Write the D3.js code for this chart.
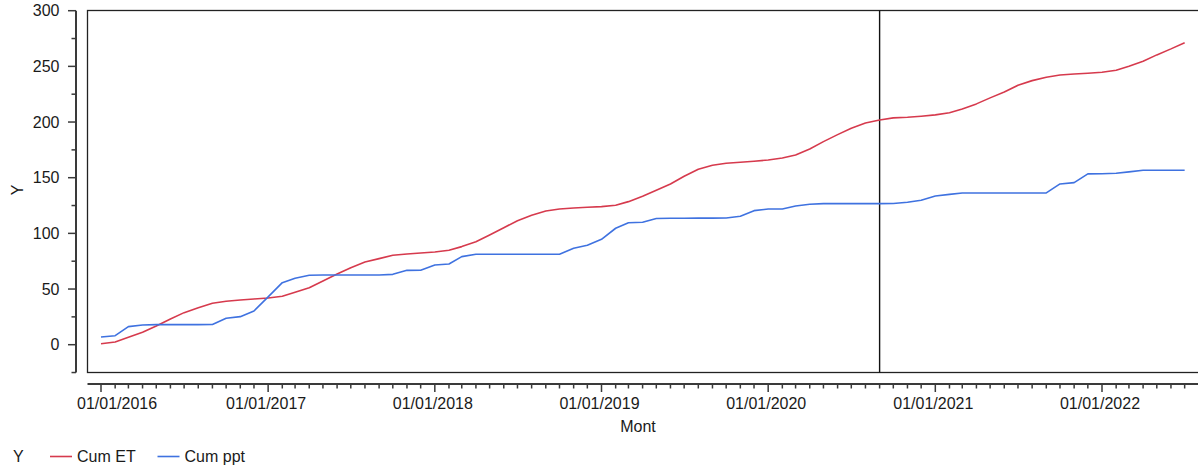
<!DOCTYPE html>
<html>
<head>
<meta charset="utf-8">
<script src="https://cdn.jsdelivr.net/npm/d3@7"></script>
<style>
  html, body { margin: 0; padding: 0; background: #fff; }
  svg { display: block; font-family: "Liberation Sans", Arial, sans-serif; }
</style>
</head>
<body>
<svg id="chart" width="1198" height="465"></svg>
<script>
// Monthly observations, January 2016 to July 2022
const months = [
  "2016-01","2016-02","2016-03","2016-04","2016-05","2016-06","2016-07","2016-08","2016-09","2016-10","2016-11","2016-12",
  "2017-01","2017-02","2017-03","2017-04","2017-05","2017-06","2017-07","2017-08","2017-09","2017-10","2017-11","2017-12",
  "2018-01","2018-02","2018-03","2018-04","2018-05","2018-06","2018-07","2018-08","2018-09","2018-10","2018-11","2018-12",
  "2019-01","2019-02","2019-03","2019-04","2019-05","2019-06","2019-07","2019-08","2019-09","2019-10","2019-11","2019-12",
  "2020-01","2020-02","2020-03","2020-04","2020-05","2020-06","2020-07","2020-08","2020-09","2020-10","2020-11","2020-12",
  "2021-01","2021-02","2021-03","2021-04","2021-05","2021-06","2021-07","2021-08","2021-09","2021-10","2021-11","2021-12",
  "2022-01","2022-02","2022-03","2022-04","2022-05","2022-06","2022-07"
];

// Cumulative evapotranspiration
const cumET = [
  0.9, 2.4, 6.6, 11.1, 16.8, 23.1, 28.8, 33.2, 37.2, 39.0,
  40.2, 41.1, 42.0, 43.5, 47.1, 51.2, 57.2, 63.5, 69.2, 74.3,
  77.3, 80.3, 81.5, 82.4, 83.3, 84.8, 88.1, 92.5, 98.6, 105.1,
  111.4, 116.3, 120.1, 121.9, 122.8, 123.4, 124.0, 125.2, 128.5, 133.3,
  138.7, 144.4, 151.3, 157.6, 161.2, 163.0, 163.9, 164.8, 165.9, 167.7,
  170.4, 175.8, 182.4, 188.7, 194.4, 199.2, 201.9, 203.7, 204.3, 205.2,
  206.4, 208.4, 211.8, 216.3, 221.7, 227.0, 233.0, 237.2, 240.3, 242.3,
  243.2, 243.8, 244.7, 246.5, 250.1, 254.6, 260.3, 265.7, 271.3
];

// Cumulative precipitation
const cumPpt = [
  6.9, 8.1, 16.2, 17.7, 18.0, 18.0, 18.0, 18.0, 18.1, 23.7,
  25.2, 30.3, 42.9, 55.7, 59.7, 62.4, 62.6, 62.6, 62.6, 62.6,
  62.6, 63.2, 66.8, 66.9, 71.6, 72.5, 79.1, 81.2, 81.2, 81.2,
  81.2, 81.2, 81.2, 81.3, 86.6, 89.3, 94.7, 104.6, 109.6, 110.0,
  113.4, 113.6, 113.6, 113.7, 113.7, 113.8, 115.4, 120.4, 121.9, 121.9,
  124.6, 126.1, 126.7, 126.7, 126.7, 126.7, 126.7, 126.8, 127.9, 129.7,
  133.6, 135.0, 136.3, 136.3, 136.3, 136.3, 136.3, 136.3, 136.4, 144.4,
  145.6, 153.4, 153.6, 154.0, 155.2, 156.7, 156.7, 156.7, 156.7
];

const yearTicks = ["2016-01","2017-01","2018-01","2019-01","2020-01","2021-01","2022-01"];
const yTicks = [0, 50, 100, 150, 200, 250, 300];
const yMinorTicks = [-25, 25, 75, 125, 175, 225, 275];
const referenceMonth = "2020-09";

const seriesNames = ["Cum ET", "Cum ppt"];
const seriesColors = ["#d63a4d", "#3f72e0"];

const parseMonth = d3.timeParse("%Y-%m");
const dates = months.map(parseMonth);

const svg = d3.select("#chart");
const fontSize = 16;
const textColor = "#1a1a1a";

// Frame geometry
const plotLeft = 87.5, plotTop = 10.5, plotBottom = 372.5, plotRight = 1200;
const yAxisX = 76, xAxisY = 384;

const x = d3.scaleTime()
  .domain([parseMonth("2016-01"), parseMonth("2022-01")])
  .range([101, 1102]);

const y = d3.scaleLinear()
  .domain([0, 300])
  .range([344.7, 10.7]);

const axisColor = "#3a3a3a";

// Plot frame
svg.append("rect")
  .attr("x", plotLeft).attr("y", plotTop)
  .attr("width", plotRight - plotLeft).attr("height", plotBottom - plotTop)
  .attr("fill", "none").attr("stroke", "#222").attr("stroke-width", 1.3);

// Y axis (detached from the frame)
const yAxis = svg.append("g").attr("transform", `translate(${yAxisX},0)`);
yAxis.append("line")
  .attr("x1", 0).attr("x2", 0)
  .attr("y1", y(300)).attr("y2", y(-25))
  .attr("stroke", axisColor).attr("stroke-width", 2);
yAxis.selectAll(".major").data(yTicks).join("line")
  .attr("x1", -8).attr("x2", 0)
  .attr("y1", d => y(d)).attr("y2", d => y(d))
  .attr("stroke", axisColor).attr("stroke-width", 1.5);
yAxis.selectAll(".minor").data(yMinorTicks).join("line")
  .attr("x1", -4.5).attr("x2", 0)
  .attr("y1", d => y(d)).attr("y2", d => y(d))
  .attr("stroke", axisColor).attr("stroke-width", 1.5);
yAxis.selectAll("text").data(yTicks).join("text")
  .attr("x", -16.5).attr("y", d => y(d))
  .attr("dy", "0.36em")
  .attr("text-anchor", "end")
  .attr("font-size", fontSize)
  .attr("fill", textColor)
  .text(d => d);

svg.append("text")
  .attr("transform", "translate(23,190) rotate(-90)")
  .attr("text-anchor", "middle")
  .attr("font-size", fontSize)
  .attr("fill", textColor)
  .text("Y");

// X axis (detached from the frame)
const xStart = x.invert(plotLeft), xEnd = x.invert(1198);
const xAxis = svg.append("g").attr("transform", `translate(0,${xAxisY})`);
xAxis.append("line")
  .attr("x1", plotLeft).attr("x2", 1198)
  .attr("y1", 0).attr("y2", 0)
  .attr("stroke", axisColor).attr("stroke-width", 2);
const monthTicks = d3.timeMonth.range(d3.timeMonth.ceil(xStart), xEnd);
const yearDates = yearTicks.map(parseMonth).map(d => +d);
xAxis.selectAll(".tick").data(monthTicks).join("line")
  .attr("x1", d => x(d)).attr("x2", d => x(d))
  .attr("y1", 0)
  .attr("y2", d => yearDates.includes(+d) ? 8 : 4.5)
  .attr("stroke", axisColor).attr("stroke-width", 1.5);
const fmt = d3.timeFormat("%m/%d/%Y");
const labelMinLeft = 77;
xAxis.selectAll("text").data(yearTicks.map(parseMonth)).join("text")
  .attr("x", d => x(d) - 2).attr("y", 24.5)
  .attr("text-anchor", "middle")
  .attr("font-size", fontSize)
  .attr("fill", textColor)
  .text(d => fmt(d))
  .each(function () {
    // keep labels from running past the left end of the axis
    const b = this.getBBox();
    if (b.x < labelMinLeft) {
      d3.select(this).attr("x", +d3.select(this).attr("x") + (labelMinLeft - b.x));
    }
  });

svg.append("text")
  .attr("x", 638).attr("y", 432)
  .attr("text-anchor", "middle")
  .attr("font-size", fontSize)
  .attr("fill", textColor)
  .text("Mont");

// Reference line
const refX = x(parseMonth(referenceMonth));
svg.append("line")
  .attr("x1", refX).attr("x2", refX)
  .attr("y1", plotTop).attr("y2", plotBottom)
  .attr("stroke", "#111").attr("stroke-width", 1.4);

// Series lines
const line = d3.line()
  .x((d, i) => x(dates[i]))
  .y(d => y(d));

[cumET, cumPpt].forEach((vals, k) => {
  svg.append("path")
    .datum(vals)
    .attr("d", line)
    .attr("fill", "none")
    .attr("stroke", seriesColors[k])
    .attr("stroke-width", 1.6)
    .attr("stroke-linejoin", "round");
});

// Legend
const legend = svg.append("g").attr("transform", "translate(0,456.5)");
legend.append("text")
  .attr("x", 13).attr("y", 0).attr("dy", "0.36em")
  .attr("font-size", fontSize).attr("fill", textColor)
  .text("Y");
const legendX = [50, 157.5];
seriesNames.forEach((name, k) => {
  legend.append("line")
    .attr("x1", legendX[k]).attr("x2", legendX[k] + 22)
    .attr("y1", 0).attr("y2", 0)
    .attr("stroke", seriesColors[k]).attr("stroke-width", 1.6);
  legend.append("text")
    .attr("x", legendX[k] + 27).attr("y", 0).attr("dy", "0.36em")
    .attr("font-size", fontSize).attr("fill", textColor)
    .text(name);
});
</script>
</body>
</html>
